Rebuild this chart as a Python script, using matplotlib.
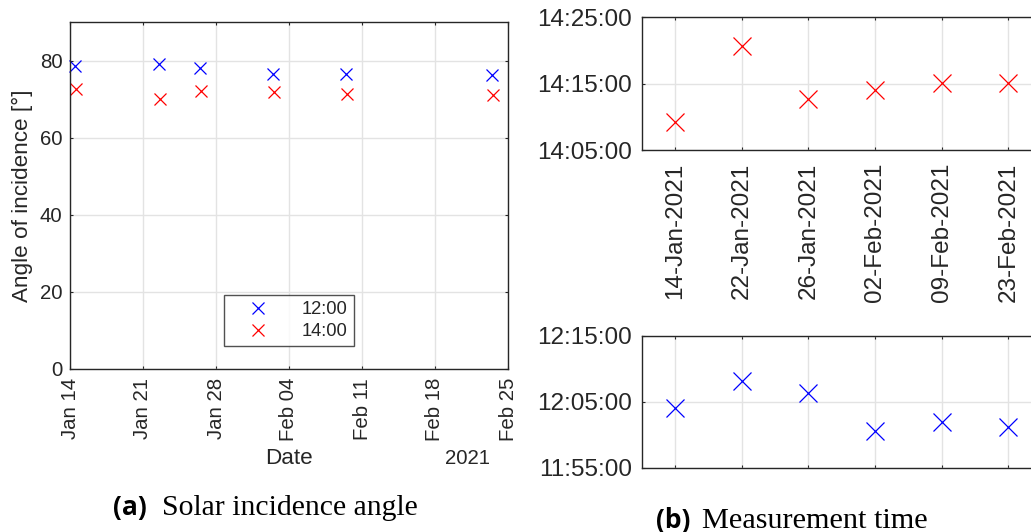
import matplotlib
matplotlib.use("Agg")
import matplotlib.pyplot as plt
import matplotlib.dates as mdates
import pandas as pd
import numpy as np

# ---------------- data ----------------
dates = ["2021-01-14", "2021-01-22", "2021-01-26", "2021-02-02", "2021-02-09", "2021-02-23"]
series_labels = ["12:00", "14:00"]
angle_1200 = [78.7, 79.0, 78.1, 76.4, 76.4, 76.2]
angle_1400 = [72.5, 70.1, 72.2, 71.9, 71.4, 71.0]
time_1400 = ["14:09:10", "14:20:43", "14:12:41", "14:14:03", "14:15:09", "14:15:03"]
time_1200 = ["12:04:05", "12:08:08", "12:06:16", "12:00:36", "12:01:55", "12:01:13"]
angle_yticks = [0, 20, 40, 60, 80]
angle_ylim = [0, 90]
date_xlim = ["2021-01-14", "2021-02-25"]
time_1400_ticks = ["14:05:00", "14:15:00", "14:25:00"]
time_1200_ticks = ["11:55:00", "12:05:00", "12:15:00"]

# ---------------- style ----------------
plt.rcParams['font.family'] = ['Liberation Sans', 'DejaVu Sans']
TXT = '#262626'
GRID = '#e3e3e3'
W, H = 1031, 532
fig = plt.figure(figsize=(W / 100, H / 100), dpi=100)


def px_axes(x0, y0, x1, y1):
    return fig.add_axes([x0 / W, 1 - y1 / H, (x1 - x0) / W, (y1 - y0) / H])


def style(ax, fs):
    for s in ax.spines.values():
        s.set_color(TXT)
        s.set_linewidth(1.0)
    ax.tick_params(direction='in', length=2.5, width=0.8, color=TXT,
                   labelcolor=TXT, labelsize=fs, top=True, right=True)
    ax.grid(True, color=GRID, linewidth=1.0)
    ax.set_axisbelow(True)


d = pd.to_datetime(dates)

# ---------------- panel (a) ----------------
ax = px_axes(70, 22, 508, 369)
style(ax, 14.7)
x12 = d + pd.Timedelta(hours=int(series_labels[0][:2]))
x14 = d + pd.Timedelta(hours=int(series_labels[1][:2]))
ax.plot(x12, angle_1200, 'x', color='blue', ms=8.6, mew=0.9, label=series_labels[0], clip_on=False)
ax.plot(x14, angle_1400, 'x', color='red', ms=8.6, mew=0.9, label=series_labels[1], clip_on=False)
ax.set_xlim(pd.to_datetime(date_xlim[0]), pd.to_datetime(date_xlim[1]))
ax.set_ylim(*angle_ylim)
ax.set_yticks(angle_yticks)
ax.xaxis.set_major_locator(mdates.DayLocator(bymonthday=None, interval=7))
ticks = pd.date_range(date_xlim[0], date_xlim[1], freq='7D')
ax.set_xticks(ticks)
ax.xaxis.set_major_formatter(mdates.DateFormatter('%b %d'))
ax.tick_params(axis='x', labelrotation=90, pad=6.5)
ax.tick_params(axis='y', pad=5.5)
for lab in ax.get_xticklabels():
    lab.set_va('top')
    lab.set_ha('center')
leg = ax.legend(loc='upper left', bbox_to_anchor=(224 / W, 1 - 295 / H),
                bbox_transform=fig.transFigure, fontsize=13.2, frameon=True,
                fancybox=False, edgecolor=TXT, borderpad=0.35, handlelength=3.0,
                handletextpad=0.9, labelspacing=0.25, borderaxespad=0)
leg.get_frame().set_linewidth(1.0)
for t in leg.get_texts():
    t.set_color(TXT)
fig.text(22 / W, 1 - 196 / H, 'Angle of incidence [°]', rotation=90, ha='center',
         va='center', fontsize=16.2, color=TXT)
fig.text(289 / W, 1 - 458 / H, 'Date', ha='center', va='center', fontsize=16.2, color=TXT)
fig.text(467 / W, 1 - 458 / H, d[0].strftime('%Y'), ha='center', va='center', fontsize=14.7, color=TXT)

# ---------------- panel (b) ----------------
cats = [x.strftime('%d-%b-%Y') for x in d]
xpos = np.arange(1, len(cats) + 1)


def tod(lst):
    return mdates.date2num(pd.to_datetime(["2021-01-01 " + t for t in lst]))


ax1 = px_axes(641.7, 17.3, 1041.7, 150)
style(ax1, 17.5)
ax1.plot(xpos, tod(time_1400), 'x', color='red', ms=12.5, mew=0.9, clip_on=False)
ax1.set_xlim(0.5, len(cats) + 0.5)
ax1.set_xticks(xpos)
ax1.set_xticklabels(cats, rotation=90)
yt = tod(time_1400_ticks)
ax1.set_ylim(yt[0], yt[-1])
ax1.set_yticks(yt)
ax1.set_yticklabels(time_1400_ticks)
ax1.tick_params(axis='x', pad=9.4)
ax1.tick_params(axis='y', pad=7.2)

ax2 = px_axes(641.7, 335.7, 1041.7, 467.7)
style(ax2, 17.5)
ax2.plot(xpos, tod(time_1200), 'x', color='blue', ms=12.5, mew=0.9, clip_on=False)
ax2.set_xlim(0.5, len(cats) + 0.5)
ax2.set_xticks(xpos)
ax2.set_xticklabels([])
yt2 = tod(time_1200_ticks)
ax2.set_ylim(yt2[0], yt2[-1])
ax2.set_yticks(yt2)
ax2.set_yticklabels(time_1200_ticks)
ax2.tick_params(axis='y', pad=7.2)

# ---------------- captions ----------------
fig.text(147 / W, 1 - 515 / H, '(a)', ha='right', va='baseline', fontsize=19,
         fontweight='bold', family=['Open Sans', 'DejaVu Sans'], color='black')
fig.text(162 / W, 1 - 515 / H, 'Solar incidence angle', ha='left', va='baseline',
         fontsize=21.4, family=['Liberation Serif', 'DejaVu Serif'], color='black')
fig.text(690 / W, 1 - 528 / H, '(b)', ha='right', va='baseline', fontsize=19,
         fontweight='bold', family=['Open Sans', 'DejaVu Sans'], color='black')
fig.text(701.7 / W, 1 - 528 / H, 'Measurement time', ha='left', va='baseline',
         fontsize=21.8, family=['Liberation Serif', 'DejaVu Serif'], color='black')

fig.savefig('out.png', dpi=100)
